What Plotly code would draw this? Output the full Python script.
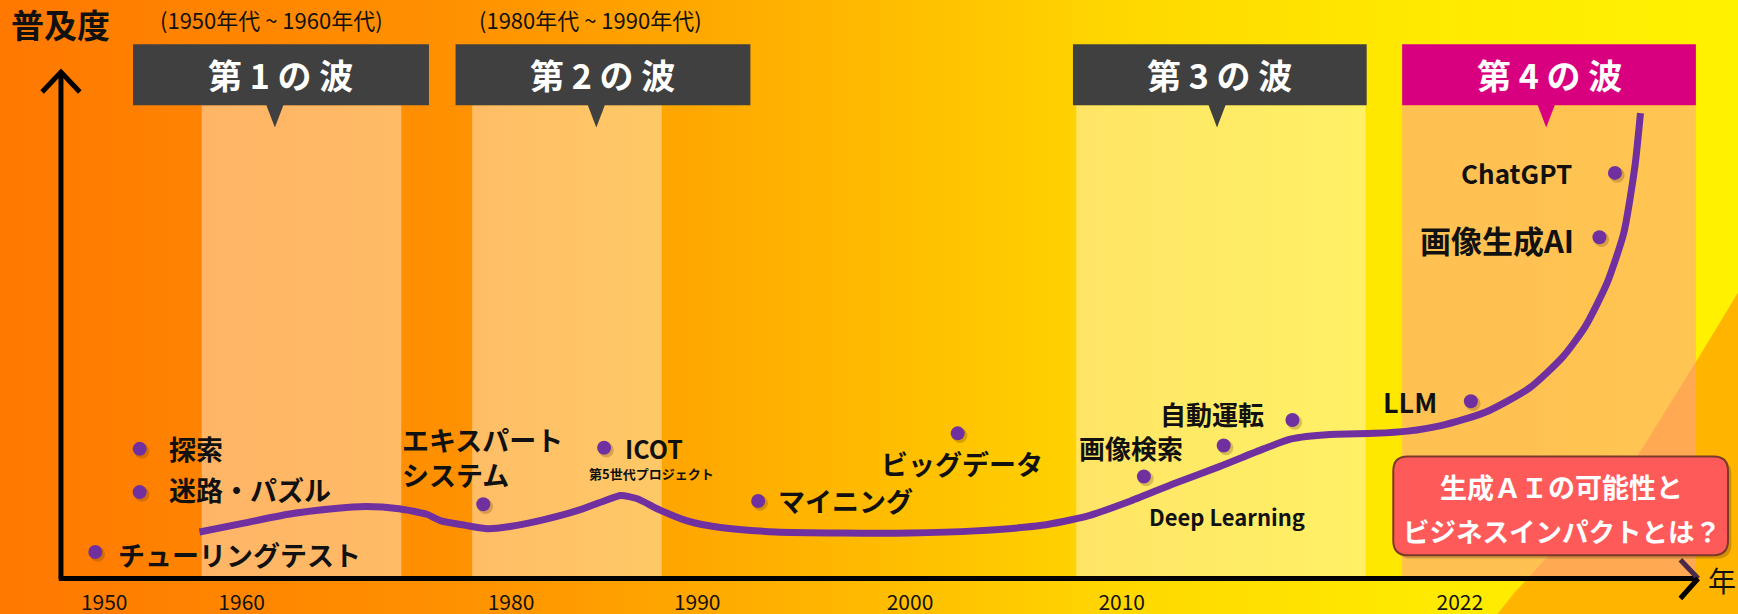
import plotly.graph_objects as go

# ---------------- data ----------------
tick_years = ["1950", "1960", "1980", "1990", "2000", "2010", "2022"]
tick_pos = [39, 163, 406, 574, 766, 957, 1262]

# adoption curve (timeline position, adoption level)
curve_x = [125, 165, 205, 245, 275, 305, 330, 343, 365, 385, 405, 435, 465, 490, 505, 520, 540,
           565, 595, 645, 705, 765, 825, 885, 925, 965, 1005, 1045, 1085, 1110, 1145, 1185, 1215,
           1245, 1285, 1325, 1355, 1375, 1395, 1410, 1420, 1425]
curve_y = [42, 50, 58, 63, 65, 63, 58, 52, 48, 45, 47, 53, 61, 70, 75, 72, 62,
           52, 46, 42, 41, 41, 43, 48, 56, 70, 86, 101, 117, 126, 130, 131, 133,
           138, 150, 172, 200, 227, 267, 312, 372, 420]

event_names = ["チューリングテスト", "探索", "迷路・パズル", "エキスパートシステム", "ICOT",
               "マイニング", "ビッグデータ", "Deep Learning", "画像検索", "自動運転",
               "LLM", "画像生成AI", "ChatGPT"]
event_x = [31, 71, 71, 381, 490, 629, 809, 977, 1049, 1111, 1272, 1388, 1402]
event_y = [24, 117, 78, 67, 118, 70, 131, 92, 120, 143, 160, 308, 366]

wave_titles = ["第 1 の 波", "第 2 の 波", "第 3 の 波", "第 4 の 波"]
band_x0 = [127, 371, 916, 1210]
band_x1 = [307, 542, 1177, 1475]
box_x0 = [65, 356, 913, 1210]
box_x1 = [332, 622, 1178, 1475]
pointer_x = [193, 483, 1043, 1340]

period_texts = ["(1950年代 ~ 1960年代)", "(1980年代 ~ 1990年代)"]
period_x = [190, 478]

callout_lines = ["生成ＡＩの可能性と", "ビジネスインパクトとは？"]

# ---------------- styling / layout helpers ----------------
FONT = "Noto Sans CJK JP"
PURPLE = "#7030A0"
X0, X1, Y0, Y1 = -55, 1513, -32, 522

# label placement: (text, x, y, xanchor, size)
label_layout = [
    ("チューリングテスト", 50, 22, "left", 27),
    ("探索", 96, 117, "left", 27),
    ("迷路・パズル", 96, 80, "left", 27),
    ("エキスパート<br>システム", 306, 110, "left", 27),
    ("ICOT", 507, 118, "left", 25),
    ("第5世代プロジェクト", 533, 95, "center", 13),
    ("マイニング", 645, 70, "left", 27),
    ("ビッグデータ", 813, 104, "center", 27),
    ("Deep Learning", 1052, 56, "center", 22),
    ("画像検索", 965, 118, "center", 26),
    ("自動運転", 1038, 149, "center", 26),
    ("LLM", 1217, 160, "center", 27),
    ("画像生成AI", 1367, 306, "right", 31),
    ("ChatGPT", 1365, 366, "right", 26),
]

fig = go.Figure()

# background gradient
fig.add_trace(go.Scatter(
    x=[X0, X1, X1, X0, X0], y=[Y0, Y0, Y1, Y1, Y0], mode="lines", fill="toself",
    line=dict(width=0), hoverinfo="skip",
    fillgradient=dict(type="horizontal", colorscale=[
        [0, "#FF7800"], [0.12, "#FF8400"], [0.27, "#FF9200"], [0.4, "#FFA800"],
        [0.55, "#FFC400"], [0.65, "#FFD800"], [0.8, "#FFE800"], [1, "#FFF200"]])))

# orange wedge bottom right
fig.add_trace(go.Scatter(
    x=[1296, 1312, 1362, 1422, 1476, 1513, 1513, 1296],
    y=[Y0, -12, 42, 110, 197, 258, Y0, Y0], mode="lines", fill="toself",
    line=dict(width=0), fillcolor="#FFB400", hoverinfo="skip"))

# light bands for each wave
band_fill = ["rgba(255,255,255,0.4)"] * 3 + ["rgba(255,160,150,0.55)"]
for i in range(4):
    fig.add_trace(go.Scatter(
        x=[band_x0[i], band_x1[i], band_x1[i], band_x0[i], band_x0[i]],
        y=[0, 0, 427, 427, 0], mode="lines", fill="toself", line=dict(width=0),
        fillcolor=band_fill[i], hoverinfo="skip"))

# adoption curve
fig.add_trace(go.Scatter(x=curve_x, y=curve_y, mode="lines",
                         line=dict(color=PURPLE, width=7, shape="spline", smoothing=0.6),
                         hoverinfo="skip"))

# event dots (soft shadow + dot)
fig.add_trace(go.Scatter(x=[v + 2 for v in event_x], y=[v - 2 for v in event_y], mode="markers",
                         marker=dict(size=15, color="rgba(90,50,20,0.25)"), hoverinfo="skip"))
fig.add_trace(go.Scatter(x=event_x, y=event_y, mode="markers", text=event_names,
                         marker=dict(size=14, color=PURPLE), hoverinfo="text"))

shapes = []
annotations = []

# axes
shapes.append(dict(type="line", x0=0, y0=0, x1=0, y1=457, line=dict(color="black", width=5)))
shapes.append(dict(type="path", path="M -17,439 L 0,457 L 17,439",
                   line=dict(color="black", width=5)))
shapes.append(dict(type="line", x0=-2, y0=0, x1=1477, y1=0, line=dict(color="black", width=5)))
shapes.append(dict(type="path", path="M 1461,17 L 1477,0", line=dict(color="#4A2A4A", width=5)))
shapes.append(dict(type="path", path="M 1477,0 L 1461,-18", line=dict(color="black", width=5)))

# wave header boxes + pointers
for i in range(4):
    col = "#D9007F" if i == 3 else "#404040"
    shapes.append(dict(type="rect", x0=box_x0[i], x1=box_x1[i], y0=427, y1=482,
                       fillcolor=col, line=dict(width=0)))
    px = pointer_x[i]
    shapes.append(dict(type="path", path=f"M {px-8},428 L {px+8},428 L {px},407 Z",
                       fillcolor=col, line=dict(width=0)))
    annotations.append(dict(x=(box_x0[i] + box_x1[i]) / 2, y=455, text=wave_titles[i],
                            showarrow=False, xanchor="center", yanchor="middle",
                            font=dict(family=FONT, size=34, color="white", weight="bold")))

for t, x in zip(period_texts, period_x):
    annotations.append(dict(x=x, y=505, text=t, showarrow=False, xanchor="center",
                            yanchor="middle", font=dict(family=FONT, size=22, color="#111")))


def rrect(x0, y0, x1, y1, r):
    return (f"M {x0+r},{y0} L {x1-r},{y0} Q {x1},{y0} {x1},{y0+r} L {x1},{y1-r} "
            f"Q {x1},{y1} {x1-r},{y1} L {x0+r},{y1} Q {x0},{y1} {x0},{y1-r} "
            f"L {x0},{y0+r} Q {x0},{y0} {x0+r},{y0} Z")


# callout box
shapes.append(dict(type="path", path=rrect(1205, 18, 1507, 107, 13),
                   fillcolor="rgba(80,30,0,0.25)", line=dict(width=0)))
shapes.append(dict(type="path", path=rrect(1202, 21, 1504, 110, 13),
                   fillcolor="#FF5A5A", line=dict(color="#7A3A2A", width=2)))
annotations.append(dict(x=1354, y=83, text=callout_lines[0], showarrow=False,
                        xanchor="center", yanchor="middle",
                        font=dict(family=FONT, size=27, color="white", weight="bold")))
annotations.append(dict(x=1354, y=43, text=callout_lines[1], showarrow=False,
                        xanchor="center", yanchor="middle",
                        font=dict(family=FONT, size=26.5, color="white", weight="bold")))

# event labels
for text, x, y, anc, size in label_layout:
    annotations.append(dict(x=x, y=y, text=text, showarrow=False, xanchor=anc, yanchor="middle",
                            align="left",
                            font=dict(family=FONT, size=size, color="#111", weight="bold")))

# axis titles
annotations.append(dict(x=0, y=500, text="普及度", showarrow=False, xanchor="center",
                        yanchor="middle", font=dict(family=FONT, size=33, color="#111", weight="bold")))
annotations.append(dict(x=1499, y=-1, text="年", showarrow=False, xanchor="center",
                        yanchor="middle", font=dict(family=FONT, size=28, color="#111")))

fig.update_layout(
    width=1738, height=614, margin=dict(l=0, r=0, t=0, b=0, autoexpand=False),
    paper_bgcolor="#FF9A00", plot_bgcolor="#FF9A00", showlegend=False,
    shapes=shapes, annotations=annotations,
    xaxis=dict(range=[X0, X1], showgrid=False, zeroline=False, showline=False,
               tickmode="array", tickvals=tick_pos, ticktext=tick_years,
               ticks="outside", ticklen=5, tickcolor="rgba(0,0,0,0)",
               tickfont=dict(family=FONT, size=21, color="#111"), automargin=False,
               anchor="free", position=(0 - Y0) / (Y1 - Y0), fixedrange=True),
    yaxis=dict(range=[Y0, Y1], visible=False, fixedrange=True, automargin=False),
)

fig.write_html("out.html", config={"displayModeBar": False},
               post_script="document.body.style.margin='0';document.body.style.overflow='hidden';")
